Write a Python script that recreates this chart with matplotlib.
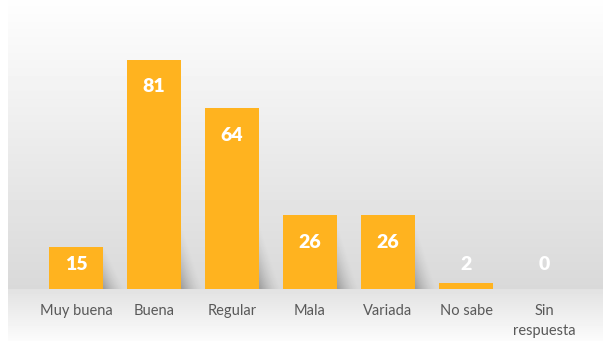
import numpy as np
import matplotlib.pyplot as plt

categories = ['Muy buena', 'Buena', 'Regular', 'Mala', 'Variada', 'No sabe', 'Sin\nrespuesta']
values = [15, 81, 64, 26, 26, 2, 0]

bar_color = '#FFB31F'
text_gray = '#595959'
bar_width = 0.7

plt.rcParams['font.family'] = ['Lato', 'DejaVu Sans']

fig = plt.figure(figsize=(6.05, 3.41), dpi=100)

# background: light gradient above the baseline, lighter fade below it
bg = fig.add_axes([0, 0, 1, 1], zorder=0)
rows = 341
base_row = 289
col = np.zeros(rows)
col[:base_row] = np.linspace(0.995, 0.85, base_row)
col[base_row:] = np.linspace(0.885, 0.985, rows - base_row)
grad = np.repeat(col[:, None], 605, axis=1)
grad[:, :8] = 1.0
grad[:, 603:] = 1.0
bg.imshow(grad, cmap='gray', vmin=0, vmax=1, aspect='auto', interpolation='bilinear')
bg.axis('off')

ax = fig.add_axes([37 / 605, 52 / 341, 546 / 605, 283 / 341], zorder=1)
ax.patch.set_alpha(0)
x = np.arange(len(categories))

# soft drop shadow to the lower right of each bar
sx = np.linspace(0, 1, 60)
sy = np.linspace(0, 1, 60)
SX, SY = np.meshgrid(sx, sy)
for xi, v in zip(x, values):
    if v < 5:
        continue
    h = min(v, 22)
    fade = np.clip(1 - (SX * 1.1 + SY * 0.9), 0, 1) ** 1.6
    rgba = np.zeros((60, 60, 4))
    rgba[..., 3] = 0.28 * fade
    right = xi + bar_width / 2
    ax.imshow(rgba, extent=(right, right + 0.32, 0, h), origin='lower',
              aspect='auto', interpolation='bilinear', zorder=2)

ax.bar(x, values, width=bar_width, color=bar_color, zorder=3)

for xi, v in zip(x, values):
    ax.text(xi, max(v - 9.6, 8.8), str(v), ha='center', va='center',
            color='white', fontsize=14, fontweight='heavy', zorder=4)

ax.set_xlim(-0.5, len(categories) - 0.5)
ax.set_ylim(0, 100)
ax.set_xticks(x)
ax.set_xticklabels(categories, fontsize=10.5, color=text_gray, linespacing=1.55)
ax.tick_params(axis='x', length=0, pad=11)
ax.set_yticks([])
for s in ax.spines.values():
    s.set_visible(False)

fig.savefig('out.png', dpi=100)
